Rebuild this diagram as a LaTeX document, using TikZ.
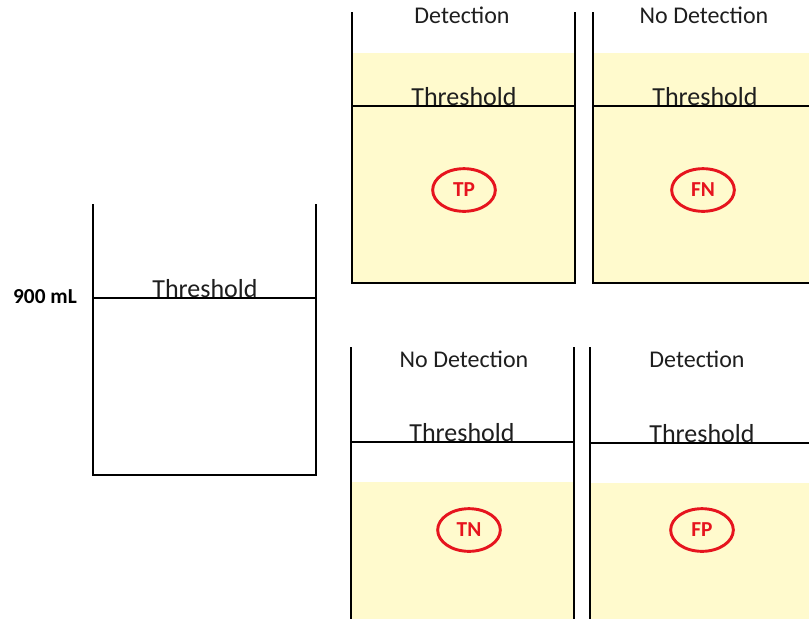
\documentclass[tikz,border=0pt]{standalone}
\usepackage{fontspec}
\setmainfont{Carlito}
\usetikzlibrary{shapes.geometric}
\definecolor{liq}{RGB}{255,250,205}
\definecolor{ered}{RGB}{230,20,30}
\definecolor{txt}{RGB}{30,30,30}
\tikzset{
  wall/.style={line width=2pt, black},
  thr/.style={line width=1.6pt, black},
  thrtext/.style={anchor=base, inner sep=0pt, text=txt, font=\fontsize{19.5}{20}\selectfont},
  lbl/.style={anchor=base, inner sep=0pt, text=txt, font=\fontsize{18}{20}\selectfont},
  tag/.style={ellipse, draw=ered, line width=2.2pt, text=ered, minimum width=47pt, minimum height=32pt, inner sep=0pt, font=\bfseries\fontsize{16}{18}\selectfont}
}
\begin{document}
\begin{tikzpicture}[x=0.75pt,y=-0.75pt]
\useasboundingbox (0,0) rectangle (809,619);
% liquid fills
\fill[liq] (352,53) rectangle (575,283);
\fill[liq] (593,53) rectangle (809,283);
\fill[liq] (351,482) rectangle (574,619);
\fill[liq] (590,483) rectangle (809,619);
% left beaker
\draw[wall] (93,204) -- (93,475) -- (316,475) -- (316,204);
\coordinate (l1) at (93,298); \coordinate (l2) at (316,298);
\draw[thr] (l1) -- (l2);
\node[thrtext] (th0) at (205,297) {Threshold};
\node[anchor=base, inner sep=0pt, font=\bfseries\fontsize{16}{18}\selectfont] (ml) at (45,303) {900 mL};
% top-left beaker (TP)
\draw[wall] (352,12) -- (352,283) -- (575,283) -- (575,12);
\coordinate (a1) at (352,106); \coordinate (a2) at (575,106);
\draw[thr] (a1) -- (a2);
\node[thrtext] (th1) at (464,105) {Threshold};
\node[lbl] (d1) at (462,23) {Detection};
\node[tag] (tp) at (464,190) {TP};
% top-right beaker (FN)
\draw[wall] (593,12) -- (593,283) -- (809,283);
\coordinate (b1) at (593,106); \coordinate (b2) at (809,106);
\draw[thr] (b1) -- (b2);
\node[thrtext] (th2) at (705,105) {Threshold};
\node[lbl] (d2) at (704,23) {No Detection};
\node[tag] (fn) at (703,190) {FN};
% bottom-left beaker (TN)
\draw[wall] (351,347) -- (351,619);
\draw[wall] (574,347) -- (574,619);
\coordinate (c1) at (351,442); \coordinate (c2) at (574,442);
\draw[thr] (c1) -- (c2);
\node[thrtext] (th3) at (462,441) {Threshold};
\node[lbl] (d3) at (464,367) {No Detection};
\node[tag] (tn) at (469,530) {TN};
% bottom-right beaker (FP)
\draw[wall] (590,347) -- (590,619);
\coordinate (e1) at (590,443); \coordinate (e2) at (809,443);
\draw[thr] (e1) -- (e2);
\node[thrtext] (th4) at (702,442) {Threshold};
\node[lbl] (d4) at (697,367) {Detection};
\node[tag] (fp) at (702,530) {FP};
\end{tikzpicture}
\end{document}
